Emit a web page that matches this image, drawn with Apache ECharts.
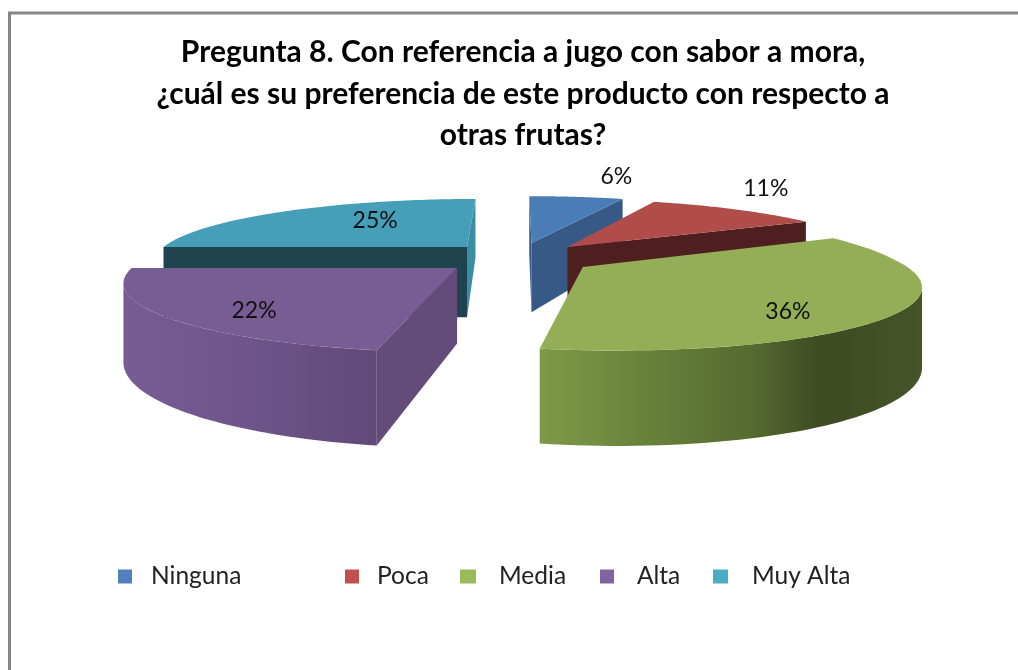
<!DOCTYPE html>
<html>
<head>
<meta charset="utf-8">
<style>html,body{margin:0;padding:0;background:#fff}#c{width:1018px;height:670px}</style>
<script src="https://cdn.jsdelivr.net/npm/echarts@6/dist/echarts.min.js"></script>
</head>
<body>
<div id="c"></div>
<script>
// ---- data ----
var categories = ['Ninguna', 'Poca', 'Media', 'Alta', 'Muy Alta'];
var shares = [6, 11, 36, 22, 25];
var titleText = 'Pregunta 8. Con referencia a jugo con sabor a mora,\n¿cuál es su preferencia de este producto con respecto a\notras frutas?';

// ---- styles ----
var legendColors = ['#4f81bd', '#c0504d', '#9bbb59', '#8064a2', '#4bacc6'];
var topColors = ['#4a7db5', '#b04c4a', '#93ae56', '#785c94', '#459fb9'];
var cutStartColors = ['#365a85', '#4f1e1e', '#5f7434', '#634c7a', '#1f4450'];
var cutEndColors = ['#365a85', '#4f1e1e', '#5f7434', '#634c7a', '#3b8da5'];
var rimStops = [
  [[0, '#365a85'], [1, '#365a85']],
  [[0, '#4f1e1e'], [1, '#4f1e1e']],
  [[0, '#7d9a47'], [0.3, '#66803a'], [0.55, '#566b30'], [0.74, '#3d4a22'], [1, '#455528']],
  [[0, '#785c94'], [0.5, '#6e5489'], [1, '#5f4a78']],
  [[0, '#3b8da5'], [1, '#3b8da5']]
];

// ---- projection of the exploded, tilted pie ----
var view = { cx: 518, cy: 258, a: 315, b: 62, persp: 0.206, depth: 73, skew: 8 };
var explode = [[0.045, -0.255], [0.163, -0.184], [0.194, 0.141], [-0.192, 0.156], [-0.168, -0.184]];
var sliceSkew = [0, 0, 5, 2, 0];
var labelOffset = [[40, -20], [30, -21], [-113, 0], [89, -6], [90, 9]];
var drawOrder = [4, 0, 1, 2, 3];
var legendLeft = [118, 345, 460, 600, 713];
var legendIconWidth = [14, 14, 16, 14, 15];
var legendTextGap = [14, 13, 18, 18, 19];

var total = shares.reduce(function (s, v) { return s + v; }, 0);

function project(X, Y, extraSkew) {
  var s = 1 / (1 - view.persp * Y);
  return {
    x: view.cx + view.a * X * s + (view.skew + extraSkew) * Math.max(Y, 0) * s,
    y: view.cy + view.b * Y * s,
    h: view.depth * s
  };
}
function rimPoint(i, deg, r) {
  var t = deg * Math.PI / 180;
  return project(explode[i][0] + r * Math.sin(t), explode[i][1] - r * Math.cos(t), sliceSkew[i]);
}
function cross(a, b, c) {
  return (b.x - a.x) * (c.y - a.y) - (b.y - a.y) * (c.x - a.x);
}
function poly(points, fill) {
  return { type: 'polygon', shape: { points: points }, style: { fill: fill, stroke: null } };
}
function gradient(stops) {
  return new echarts.graphic.LinearGradient(0, 0, 1, 0, stops.map(function (s) {
    return { offset: s[0], color: s[1] };
  }));
}

function renderSlice(i, value) {
  var before = 0;
  for (var k = 0; k < i; k++) before += shares[k];
  var a0 = before / total * 360;
  var a1 = (before + value) / total * 360;
  var mid = (a0 + a1) / 2;
  var apex = rimPoint(i, 0, 0);
  var inner = rimPoint(i, mid, 0.5);
  var children = [];

  function cutWall(deg, color) {
    var r = rimPoint(i, deg, 1);
    var down = { x: apex.x, y: apex.y + 1 };
    if (cross(apex, r, inner) * cross(apex, r, down) < 0) {
      children.push(poly([[apex.x, apex.y], [r.x, r.y], [r.x, r.y + r.h], [apex.x, apex.y + apex.h]], color));
    }
  }
  cutWall(a0, cutStartColors[i]);
  cutWall(a1, cutEndColors[i]);

  // outer wall: the part of the rim that faces the viewer, cut at the silhouette
  var f0 = Math.max(a0, 90), f1 = Math.min(a1, 270);
  if (f1 > f0) {
    var rim = [];
    for (var n = 0; n <= 60; n++) rim.push(rimPoint(i, f0 + (f1 - f0) * n / 60, 1));
    var extreme = 0;
    rim.forEach(function (p, idx) {
      if (mid < 180 ? p.x > rim[extreme].x : p.x < rim[extreme].x) extreme = idx;
    });
    rim = mid < 180 ? rim.slice(extreme) : rim.slice(0, extreme + 1);
    var upper = rim.map(function (p) { return [p.x, p.y]; });
    var lower = rim.map(function (p) { return [p.x, p.y + p.h]; }).reverse();
    children.push(poly(upper.concat(lower), gradient(rimStops[i])));
  }

  // top face
  var top = [[apex.x, apex.y]];
  for (var m = 0; m <= 80; m++) {
    var q = rimPoint(i, a0 + (a1 - a0) * m / 80, 1);
    top.push([q.x, q.y]);
  }
  children.push(poly(top, topColors[i]));

  // percentage label
  var lp = rimPoint(i, mid, 1);
  children.push({
    type: 'text',
    style: {
      x: lp.x + labelOffset[i][0],
      y: lp.y + labelOffset[i][1],
      text: Math.round(value / total * 100) + '%',
      fill: '#111',
      font: '23px Lato',
      align: 'center',
      verticalAlign: 'middle'
    }
  });
  return { type: 'group', children: children };
}

var series = categories.map(function (name, i) {
  return {
    type: 'custom',
    name: name,
    coordinateSystem: 'none',
    z: 2 + drawOrder.indexOf(i),
    silent: true,
    itemStyle: { color: legendColors[i] },
    data: [[shares[i]]],
    renderItem: function (params, api) { return renderSlice(i, api.value(0)); }
  };
});

var legends = categories.map(function (name, i) {
  return {
    data: [{ name: name, icon: 'rect' }],
    left: legendLeft[i],
    top: 564,
    padding: 0,
    itemWidth: legendIconWidth[i],
    itemHeight: 14,
    selectedMode: false,
    textStyle: { fontFamily: 'Lato', fontSize: 24.5, color: '#222', padding: [0, 0, 0, legendTextGap[i]] }
  };
});

var chart = echarts.init(document.getElementById('c'), null, { renderer: 'canvas' });
chart.setOption({
  animation: false,
  backgroundColor: '#fff',
  tooltip: { show: false },
  title: {
    text: titleText,
    left: 518,
    top: 27,
    textAlign: 'center',
    textStyle: { fontFamily: 'Lato', fontWeight: 'bold', fontSize: 30, lineHeight: 41.5, color: '#000' }
  },
  legend: legends,
  graphic: [
    { type: 'line', silent: true, shape: { x1: 8, y1: 13, x2: 1018, y2: 13 }, style: { stroke: '#868686', lineWidth: 3 } },
    { type: 'line', silent: true, shape: { x1: 9.5, y1: 12, x2: 9.5, y2: 670 }, style: { stroke: '#868686', lineWidth: 3 } }
  ],
  series: series
});
</script>
</body>
</html>
